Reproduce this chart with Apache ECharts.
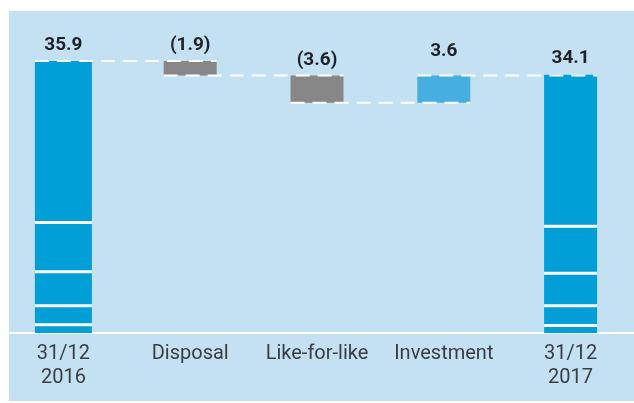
<!DOCTYPE html>
<html>
<head>
<meta charset="utf-8">
<script src="https://cdn.jsdelivr.net/npm/echarts@6/dist/echarts.min.js"></script>
<style>
  html, body { margin: 0; padding: 0; background: #ffffff; }
  #chart { width: 634px; height: 403px; }
</style>
</head>
<body>
<div id="chart"></div>
<script>
// Net debt bridge (EUR bn): opening balance, movements, closing balance
const categories = ['31/12\n2016', 'Disposal', 'Like-for-like', 'Investment', '31/12\n2017'];
const openingTotal = 35.9;
const movements = [-1.9, -3.6, 3.6];          // Disposal, Like-for-like, Investment
const closingTotal = 34.1;
const openingSegments = [1.1, 2.5, 4.5, 6.5, 21.3];   // stacked from the bottom
const closingSegments = [1.0, 2.6, 4.3, 6.2, 20.0];

// Styling per column
const barColors = ['#009fd7', '#878787', '#878787', '#46aee0', '#009fd7'];
const barWidths = [57, 53, 53, 53, 53];
const labelGaps = [16, 16, 15, 24, 16];

function fmt(v) {
  return v < 0 ? '(' + Math.abs(v).toFixed(1) + ')' : v.toFixed(1);
}

// Build the floating bars: [index, low, high, label]
const rows = [[0, 0, openingTotal, fmt(openingTotal)]];
const levels = [openingTotal];   // running total after each column
let level = openingTotal;
movements.forEach(function (m, k) {
  const next = Math.round((level + m) * 10) / 10;
  rows.push([k + 1, Math.min(level, next), Math.max(level, next), fmt(m)]);
  levels.push(next);
  level = next;
});
rows.push([categories.length - 1, 0, closingTotal, fmt(closingTotal)]);
const segmentsByIndex = { 0: openingSegments };
segmentsByIndex[categories.length - 1] = closingSegments;

function renderItem(params, api) {
  const i = api.value(0);
  const low = api.value(1);
  const high = api.value(2);
  const w = barWidths[i];
  const pTop = api.coord([i, high]);
  const pBot = api.coord([i, low]);
  const children = [];
  children.push({
    type: 'rect',
    shape: { x: pTop[0] - w / 2, y: pTop[1], width: w, height: pBot[1] - pTop[1] },
    style: { fill: barColors[i] }
  });
  const segs = segmentsByIndex[i];
  if (segs) {
    let acc = low;
    for (let s = 0; s < segs.length - 1; s++) {
      acc += segs[s];
      const p = api.coord([i, acc]);
      children.push({
        type: 'rect',
        shape: { x: p[0] - w / 2, y: p[1] - 1.5, width: w, height: 3 },
        style: { fill: '#ffffff' }
      });
    }
  }
  if (i < categories.length - 1) {
    const a = api.coord([i, levels[i]]);
    const b = api.coord([i + 1, levels[i]]);
    children.push({
      type: 'line',
      z2: 20,
      shape: { x1: a[0] - w / 2, y1: a[1], x2: b[0] + barWidths[i + 1] / 2, y2: b[1] },
      style: { stroke: '#ffffff', lineWidth: 2, lineDash: [14, 8] }
    });
  }
  children.push({
    type: 'text',
    z2: 30,
    style: {
      text: rows[i][3],
      x: pTop[0],
      y: pTop[1] - labelGaps[i],
      align: 'center',
      verticalAlign: 'middle',
      fontFamily: 'Roboto',
      fontWeight: 'bold',
      fontSize: 19,
      fill: '#1f2328'
    }
  });
  return { type: 'group', children: children };
}

const chart = echarts.init(document.getElementById('chart'), null, { renderer: 'canvas' });
chart.setOption({
  animation: false,
  graphic: [{
    type: 'rect',
    z: -10,
    shape: { x: 9, y: 11, width: 625, height: 390 },
    style: { fill: '#c4e0f3' }
  }],
  grid: { left: -19.5, right: -26, top: 30, bottom: 70 },
  xAxis: {
    type: 'category',
    data: categories,
    axisLine: { show: true, lineStyle: { color: '#ffffff', width: 2 } },
    axisTick: { show: false },
    axisLabel: {
      interval: 0,
      margin: 9,
      fontFamily: 'Roboto',
      fontSize: 20,
      lineHeight: 24,
      color: '#3a3e44'
    }
  },
  yAxis: {
    type: 'value',
    min: 0,
    max: 40,
    show: false,
    splitLine: { show: false }
  },
  series: [{
    type: 'custom',
    renderItem: renderItem,
    encode: { x: 0, y: [1, 2] },
    data: rows.map(function (r) { return [r[0], r[1], r[2]]; })
  }]
});
</script>
</body>
</html>
